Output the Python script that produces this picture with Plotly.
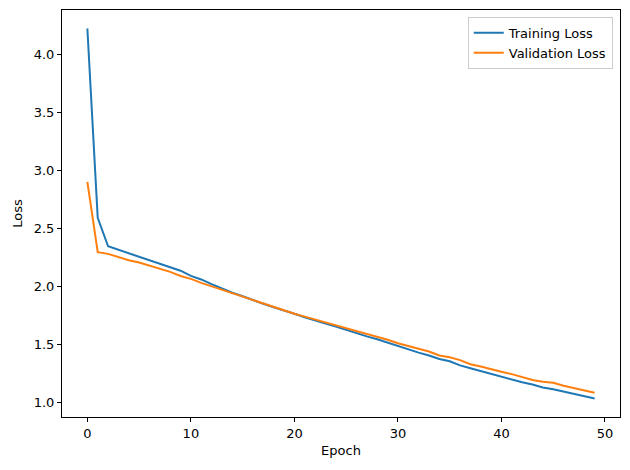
import plotly.graph_objects as go

epochs = list(range(50))
train_loss = [4.22, 2.59, 2.345, 2.315, 2.285, 2.26, 2.23, 2.20, 2.165, 2.135,
              2.09, 2.06, 2.02, 1.98, 1.945, 1.915, 1.88, 1.85, 1.82, 1.795,
              1.765, 1.735, 1.705, 1.68, 1.655, 1.625, 1.60, 1.57, 1.545, 1.515,
              1.485, 1.46, 1.43, 1.405, 1.375, 1.355, 1.32, 1.295, 1.27, 1.245,
              1.22, 1.20, 1.175, 1.155, 1.13, 1.115, 1.095, 1.075, 1.055, 1.035]
val_loss = [2.90, 2.295, 2.28, 2.25, 2.225, 2.205, 2.18, 2.15, 2.125, 2.09,
            2.065, 2.03, 2.0, 1.97, 1.94, 1.915, 1.885, 1.855, 1.825, 1.795,
            1.765, 1.74, 1.715, 1.69, 1.665, 1.64, 1.615, 1.595, 1.565, 1.54,
            1.51, 1.485, 1.46, 1.44, 1.405, 1.39, 1.365, 1.33, 1.31, 1.285,
            1.265, 1.245, 1.22, 1.195, 1.18, 1.17, 1.145, 1.125, 1.105, 1.085]
x_ticks = [0, 10, 20, 30, 40, 50]
y_ticks = [1.0, 1.5, 2.0, 2.5, 3.0, 3.5, 4.0]

fig = go.Figure()
fig.add_trace(go.Scatter(x=epochs, y=train_loss, mode="lines", name="Training Loss",
                         line=dict(color="#1f77b4", width=2)))
fig.add_trace(go.Scatter(x=epochs, y=val_loss, mode="lines", name="Validation Loss",
                         line=dict(color="#ff7f0e", width=2)))

ymin = min(train_loss + val_loss)
ymax = max(train_loss + val_loss)
pad = (ymax - ymin) * 0.05
xpad = (epochs[-1] - epochs[0]) * 0.05

axis_common = dict(showline=True, linecolor="black", linewidth=1, mirror=True,
                   ticks="outside", ticklen=4, tickcolor="black", showgrid=False,
                   zeroline=False, automargin=False,
                   tickfont=dict(size=13, color="black"))

fig.update_layout(
    width=630, height=470,
    margin=dict(l=54, r=18, t=2, b=61),
    paper_bgcolor="white", plot_bgcolor="white",
    font=dict(family="DejaVu Sans", size=13, color="black"),
    xaxis=dict(range=[epochs[0] - xpad, epochs[-1] + xpad], tickvals=x_ticks,
               title=dict(text="Epoch", font=dict(size=13), standoff=6), **axis_common),
    yaxis=dict(range=[ymin - pad, ymax + pad], tickvals=y_ticks,
               ticktext=[f"{v:.1f}" for v in y_ticks],
               title=dict(text="Loss", font=dict(size=13), standoff=8), **axis_common),
    legend=dict(x=0.987, y=0.983, xanchor="right", yanchor="top",
                bordercolor="#cccccc", borderwidth=1, bgcolor="rgba(255,255,255,0.8)",
                font=dict(size=13), tracegroupgap=0),
    showlegend=True,
)

fig.write_html("out.html")
